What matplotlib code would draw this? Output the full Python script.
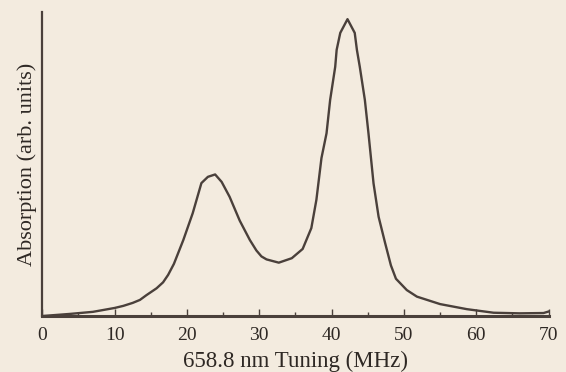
import matplotlib
matplotlib.use('Agg')
import matplotlib.pyplot as plt
from matplotlib.ticker import MultipleLocator

# tuning (MHz) and absorption (arb. units)
freq = [0, 3.8, 7.0, 10.0, 11.2, 12.5, 13.5, 14.4, 15.8, 16.7, 17.4, 18.2, 19.5,
        20.8, 22.0, 22.9, 23.9, 24.8, 25.9, 27.3, 28.7, 29.6, 30.3, 31.0, 32.7,
        34.5, 36.0, 37.2, 37.9, 38.6, 39.3, 39.8, 40.5, 40.7, 41.2, 42.2, 43.2,
        43.5, 43.9, 44.6, 45.1, 45.8, 46.5, 47.4, 48.2, 48.9, 50.4, 51.8, 55.0,
        58.7, 62.4, 66.0, 69.3, 70.0]
absorb = [0.0, 0.007, 0.014, 0.027, 0.034, 0.044, 0.054, 0.07, 0.093, 0.113, 0.138,
          0.175, 0.255, 0.345, 0.446, 0.467, 0.475, 0.45, 0.40, 0.32, 0.255, 0.22,
          0.20, 0.19, 0.179, 0.194, 0.225, 0.295, 0.39, 0.53, 0.613, 0.725, 0.836,
          0.893, 0.95, 0.996, 0.95, 0.893, 0.836, 0.725, 0.613, 0.445, 0.333, 0.245,
          0.17, 0.125, 0.087, 0.065, 0.040, 0.023, 0.011, 0.009, 0.010, 0.015]
xticks = [0, 10, 20, 30, 40, 50, 60, 70]

bg = '#f3ebdf'
ink = '#4a403b'

plt.rcParams['font.family'] = ['Liberation Serif', 'DejaVu Serif']

fig = plt.figure(figsize=(5.66, 3.72), dpi=100, facecolor=bg)
ax = fig.add_axes([0.0747, 0.1505, 0.8945, 0.8172])
ax.set_facecolor(bg)

ax.plot(freq, absorb, color=ink, lw=1.7, solid_joinstyle='round')

ax.set_xlim(0, 70)
ax.set_ylim(0, 1.02)
ax.set_xticks(xticks)
ax.xaxis.set_minor_locator(MultipleLocator(5))
ax.set_yticks([])

for side in ['top', 'right']:
    ax.spines[side].set_visible(False)
ax.spines['left'].set_color(ink)
ax.spines['left'].set_linewidth(1.6)
ax.spines['bottom'].set_color(ink)
ax.spines['bottom'].set_linewidth(2.2)

ax.tick_params(axis='x', which='major', direction='in', length=5, width=1, color=ink,
               labelsize=14, labelcolor='#2e2824', pad=8)
ax.tick_params(axis='x', which='minor', direction='in', length=3, width=1, color=ink)

ax.set_xlabel('658.8 nm Tuning (MHz)', fontsize=16.5, color='#2e2824', labelpad=5)
ax.set_ylabel('Absorption (arb. units)', fontsize=16, color='#2e2824', labelpad=4)

fig.savefig('out.png', dpi=100, facecolor=bg)
